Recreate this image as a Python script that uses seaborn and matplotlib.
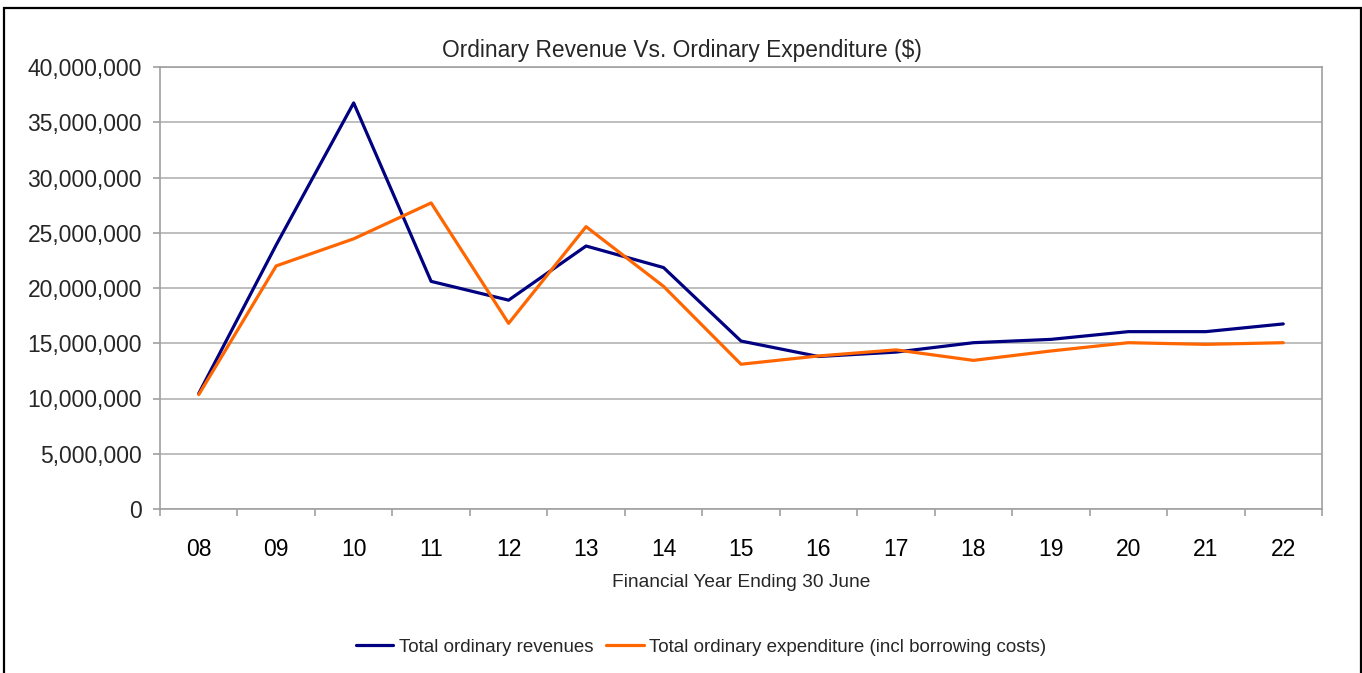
import pandas as pd
import matplotlib
matplotlib.use("Agg")
import matplotlib.pyplot as plt
import matplotlib.ticker as mticker
from matplotlib.patches import Rectangle
import seaborn as sns

# data
years = ['08', '09', '10', '11', '12', '13', '14', '15', '16', '17', '18', '19', '20', '21', '22']
revenues = [10.45, 23.9, 36.75, 20.6, 18.9, 23.8, 21.85, 15.2, 13.8, 14.2, 15.05, 15.35, 16.05, 16.05, 16.75]
expenditure = [10.35, 22.0, 24.45, 27.7, 16.8, 25.55, 20.15, 13.1, 13.85, 14.4, 13.45, 14.3, 15.05, 14.9, 15.05]

rev_label = 'Total ordinary revenues'
exp_label = 'Total ordinary expenditure (incl borrowing costs)'

df = pd.DataFrame({
    'year': years * 2,
    'value': [v * 1e6 for v in revenues] + [v * 1e6 for v in expenditure],
    'series': [rev_label] * len(years) + [exp_label] * len(years),
})

sns.set_theme(style="white")
plt.rcParams['font.family'] = ['Liberation Sans', 'DejaVu Sans']

fig = plt.figure(figsize=(13.62, 6.73), dpi=100)
ax = fig.add_axes([160 / 1362, 1 - 509 / 673, (1322 - 160) / 1362, (509 - 67) / 673])

sns.lineplot(data=df, x='year', y='value', hue='series', sort=False,
             palette={rev_label: '#000080', exp_label: '#ff6600'},
             linewidth=2.3, ax=ax, legend=False)

ax.set_xlim(-0.5, len(years) - 0.5)
ax.set_ylim(0, 40e6)
ax.yaxis.set_major_locator(mticker.MultipleLocator(5e6))
ax.yaxis.set_major_formatter(mticker.FuncFormatter(lambda v, p: f'{v:,.0f}'))
ax.set_xticks(range(len(years)))
ax.set_xticklabels(years)
ax.set_xticks([i - 0.5 for i in range(len(years) + 1)], minor=True)

ax.grid(axis='y', color='#b3b3b3', linewidth=1.2)
ax.set_axisbelow(True)
for s in ax.spines.values():
    s.set_color('#a0a0a0')
    s.set_linewidth(1.2)

ax.tick_params(axis='x', which='major', length=0, pad=21, labelsize=16.5, colors='black')
ax.tick_params(axis='x', which='minor', length=5, width=1.2, color='#a0a0a0', bottom=True)
ax.tick_params(axis='y', which='major', length=5, width=1.2, color='#a0a0a0', left=True, pad=8, labelsize=16.5)

# title is centred on the figure, not on the plot area
fig.text(682 / 1362, 1 - 50 / 673, 'Ordinary Revenue Vs. Ordinary Expenditure ($)',
         fontsize=16.4, ha='center', va='center')
ax.set_xlabel('Financial Year Ending 30 June', fontsize=13.8, labelpad=9)
ax.set_ylabel('')

handles = [plt.Line2D([], [], color='#000080', linewidth=2.3),
           plt.Line2D([], [], color='#ff6600', linewidth=2.3)]
fig.legend(handles, [rev_label, exp_label], loc='center', ncol=2,
           bbox_to_anchor=(701 / 1362, 1 - 647 / 673), frameon=False,
           fontsize=13.5, handlelength=2.0, handletextpad=0.3, columnspacing=0.7)

# outer black frame (bottom edge is cut off in the reference)
fig.patches.append(Rectangle((3.5 / 1362, -0.05), (1360.5 - 3.5) / 1362, 1.05 - 8.5 / 673,
                             transform=fig.transFigure, fill=False,
                             edgecolor='black', linewidth=1.6))

fig.savefig('out.png', dpi=100, facecolor='white')
